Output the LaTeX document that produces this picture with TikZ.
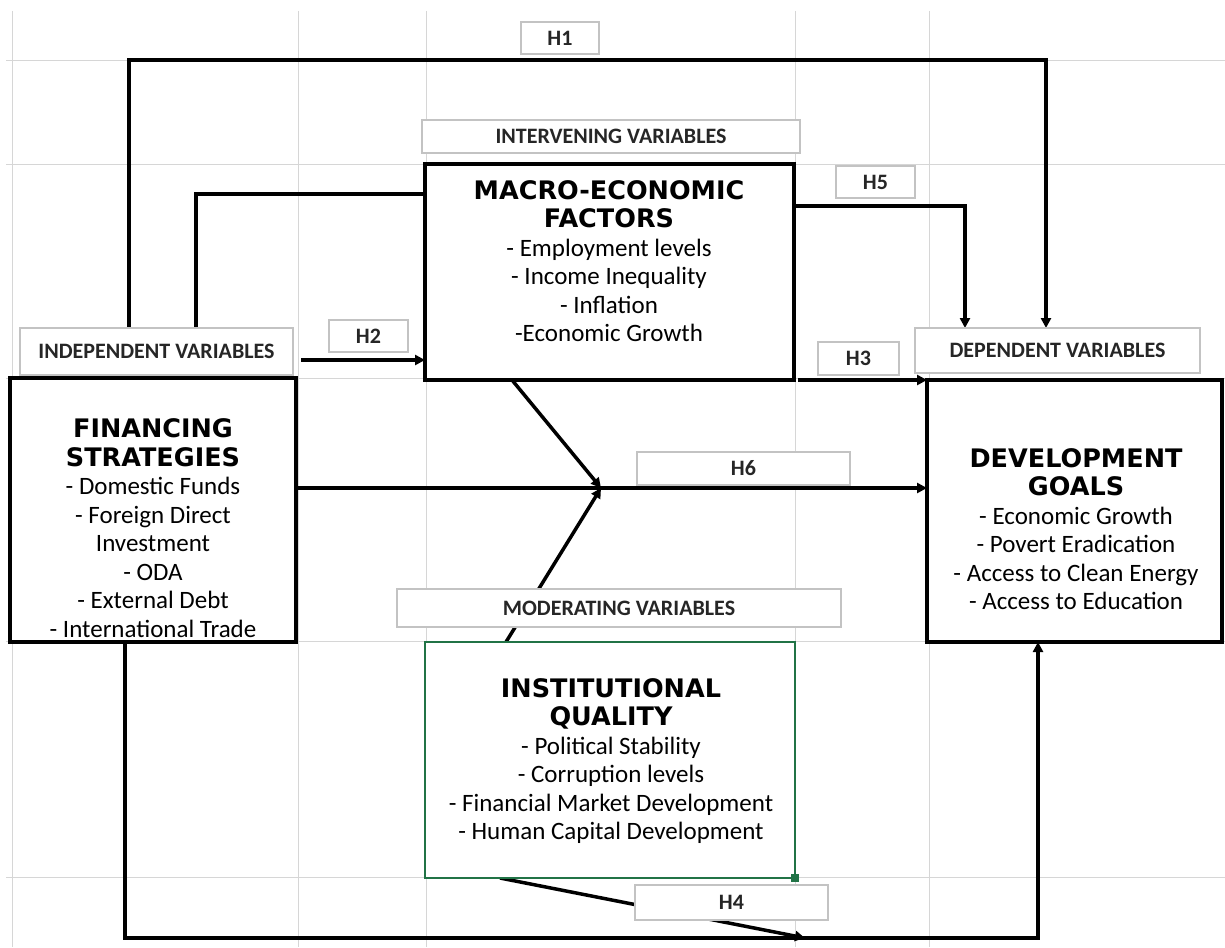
\documentclass[tikz,border=0pt]{standalone}
\usepackage{fontspec}
\setmainfont{Carlito}
\newfontfamily\ttlfont{DejaVu Sans}
\usetikzlibrary{arrows.meta}
\definecolor{gridgray}{RGB}{214,214,214}
\definecolor{lblgray}{RGB}{195,195,195}
\definecolor{xlgreen}{RGB}{33,115,70}
\newcommand\ttl[1]{{\ttlfont\bfseries\fontsize{25.5}{28.5}\selectfont #1}}
\begin{document}
\begin{tikzpicture}[x=1pt,y=-1pt,
  gridline/.style={draw=gridgray, line width=1pt},
  mainbox/.style={draw=black, line width=3.5pt, fill=white, anchor=north west, inner sep=0pt, outer sep=0pt},
  greenbox/.style={draw=xlgreen, line width=2.6pt, fill=white, anchor=north west, inner sep=0pt, outer sep=0pt},
  lbl/.style={draw=lblgray, line width=1.2pt, fill=white, anchor=north west, inner sep=0pt, outer sep=0pt, font=\fontsize{22}{24}\selectfont\bfseries, text=black!85},
  body/.style={align=center, font=\fontsize{25}{28.5}\selectfont, inner sep=0pt},
  conn/.style={draw=black, line width=3.5pt},
  arr/.style={conn, -{Triangle[length=10pt,width=10pt]}}
]
\useasboundingbox (0,0) rectangle (1225,947);
% grid
\foreach \gx in {12,298,426,795,929} {\draw[gridline] (\gx,11) -- (\gx,947);}
\foreach \gy in {61,164,378,641,877} {\draw[gridline] (6,\gy) -- (1225,\gy);}

% guide coordinates
\coordinate (xa) at (129,0);
\coordinate (xb) at (196,0);
\coordinate (xc) at (1046,0);
\coordinate (xd) at (965,0);
\coordinate (xe) at (125,0);
\coordinate (xf) at (1038,0);
\coordinate (ya) at (0,60);
\coordinate (yb) at (0,194);
\coordinate (yc) at (0,206);
\coordinate (yd) at (0,488);
\coordinate (ye) at (0,938);
\coordinate (h2s) at (301,360);
\coordinate (h3s) at (798,380);
\coordinate (cv) at (601,488);
\coordinate (h4e) at (805,938);

% boxes (empty shapes first for anchors)
\path (10,378) node[mainbox, minimum width=286pt, minimum height=264pt] (fin) {};
\path (425,164) node[mainbox, minimum width=369pt, minimum height=216pt] (macro) {};
\path (927,380) node[mainbox, minimum width=295pt, minimum height=262pt] (dev) {};
\path (425,642) node[greenbox, minimum width=370pt, minimum height=236pt] (inst) {};

% connectors
\draw[arr] (fin.north -| xa) -- (xa |- ya) -- (xc |- ya) -- (xc |- 0,328);
\draw[conn] (fin.north -| xb) |- (macro.west |- yb);
\draw[arr] (h2s) -- (macro.west |- h2s);
\draw[arr] (macro.east |- yc) -| (xd |- 0,328);
\draw[arr] (h3s) -- (dev.west |- h3s);
\draw[arr] (fin.east |- yd) -- (dev.west |- yd);
\draw[arr] ([xshift=87pt]macro.south west) -- (cv);
\draw[arr] ([xshift=81pt]inst.north west) -- (cv);
\draw[arr] (fin.south -| xe) |- (xf |- ye) -- (dev.south -| xf);
\draw[arr] ([xshift=75pt]inst.south west) -- (h4e);

% boxes redrawn on top
\path (10,378) node[mainbox, minimum width=286pt, minimum height=264pt] (fin2) {};
\path (425,164) node[mainbox, minimum width=369pt, minimum height=216pt] (macro2) {};
\path (927,380) node[mainbox, minimum width=295pt, minimum height=262pt] (dev2) {};
\path (425,642) node[greenbox, minimum width=370pt, minimum height=236pt] (inst2) {};
\node[fill=xlgreen, minimum size=8pt, inner sep=0pt] (hdl) at (inst2.south east) {};

% box texts
\node[body] (fin-t) at (153,528) {\ttl{FINANCING}\\\ttl{STRATEGIES}\\- Domestic Funds\\- Foreign Direct\\Investment\\- ODA\\- External Debt\\- International Trade};
\node[body] (macro-t) at (609,261) {\ttl{MACRO-ECONOMIC}\\\ttl{FACTORS}\\- Employment levels\\- Income Inequality\\- Inflation\\-Economic Growth};
\node[body] (dev-t) at (1076,529) {\ttl{DEVELOPMENT}\\\ttl{GOALS}\\- Economic Growth\\- Povert Eradication\\- Access to Clean Energy\\- Access to Education};
\node[body] (inst-t) at (611,761) {\ttl{INSTITUTIONAL}\\\ttl{QUALITY}\\- Political Stability\\- Corruption levels\\- Financial Market Development\\- Human Capital Development};

% labels
\path (521,22) node[lbl, minimum width=78pt, minimum height=32pt] (h1) {H1};
\path (422,120) node[lbl, minimum width=378pt, minimum height=33pt] (intv) {INTERVENING VARIABLES};
\path (836,166) node[lbl, minimum width=79pt, minimum height=32pt] (h5) {H5};
\path (20,328) node[lbl, minimum width=273pt, minimum height=47pt] (indep) {INDEPENDENT VARIABLES};
\path (329,320) node[lbl, minimum width=79pt, minimum height=32pt] (h2) {H2};
\path (915,328) node[lbl, minimum width=285pt, minimum height=45pt] (dep) {DEPENDENT VARIABLES};
\path (818,342) node[lbl, minimum width=81pt, minimum height=33pt] (h3) {H3};
\path (637,452) node[lbl, minimum width=213pt, minimum height=33pt] (h6) {H6};
\path (397,589) node[lbl, minimum width=444pt, minimum height=38pt] (modv) {MODERATING VARIABLES};
\path (635,885) node[lbl, minimum width=193pt, minimum height=35pt] (h4) {H4};
\end{tikzpicture}
\end{document}
